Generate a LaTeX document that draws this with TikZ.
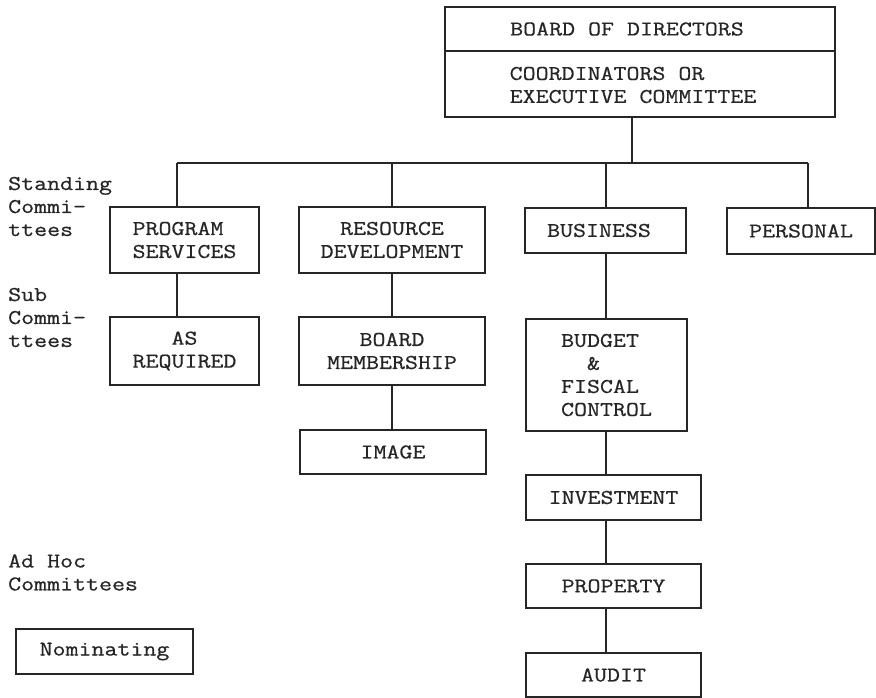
\documentclass[tikz,border=0pt]{standalone}
\usepackage{fontspec}
\setmonofont[FakeStretch=1.2,FakeBold=0.6]{Latin Modern Mono}
\begin{document}
\begin{tikzpicture}[x=1pt,y=-1pt,
  every node/.style={font=\ttfamily\fontsize{21pt}{23pt}\selectfont, text=black!85},
  box/.style={draw=black!85, line width=1.4pt, rectangle, inner sep=0pt, align=center},
  txt/.style={inner sep=0pt, align=left},
  lbl/.style={anchor=west, align=left, inner sep=0pt},
  conn/.style={draw=black!85, line width=1.4pt}]
\useasboundingbox (0,0) rectangle (876,698);
\fill[white] (0,0) rectangle (876,698);

% top boxes
\node[box, minimum width=390pt, minimum height=44pt] (board) at (640,29) {};
\node[txt] (boardtxt) at (627,29) {BOARD OF DIRECTORS};
\node[box, minimum width=390pt, minimum height=66pt] (coord) at (640,84) {};
\node[txt] (coordtxt) at (633,85) {COORDINATORS OR\\EXECUTIVE COMMITTEE};

% standing committees
\node[box, minimum width=149pt, minimum height=66pt, align=left] (prog) at (184.5,240) {PROGRAM\\SERVICES};
\node[box, minimum width=186pt, minimum height=66pt] (res) at (392,240) {RESOURCE\\DEVELOPMENT};
\node[box, minimum width=161pt, minimum height=45pt] (bus) at (605.5,230.5) {};
\node[txt] (bustxt) at (599,230.5) {BUSINESS};
\node[box, minimum width=148pt, minimum height=46pt] (pers) at (801,231) {PERSONAL};

% sub committees
\node[box, minimum width=149pt, minimum height=68pt] (asreq) at (184.5,351) {AS\\REQUIRED};
\node[box, minimum width=186pt, minimum height=68pt] (bm) at (392,351) {BOARD\\MEMBERSHIP};
\node[box, minimum width=186pt, minimum height=44pt] (img) at (393,452) {IMAGE};
\node[box, minimum width=161pt, minimum height=112pt, align=left] (budget) at (606.5,375) {BUDGET\\\phantom{BU}\&\\FISCAL\\CONTROL};
\node[box, minimum width=175pt, minimum height=45pt] (inv) at (613.5,497.5) {INVESTMENT};
\node[box, minimum width=175pt, minimum height=44pt] (prop) at (613.5,586) {PROPERTY};
\node[box, minimum width=175pt, minimum height=44pt] (audit) at (613.5,675) {AUDIT};

% ad hoc
\node[box, minimum width=177pt, minimum height=45pt] (nom) at (104.5,651.5) {Nominating};

% row labels
\node[lbl] (lstand) at (8,206.5) {Standing\\Commi-\\ttees};
\node[lbl] (lsub) at (8,317.5) {Sub\\Commi-\\ttees};
\node[lbl] (ladhoc) at (8,572.5) {Ad Hoc\\Committees};

% connectors
\coordinate (hub) at (632,163);
\coordinate (barL) at (177,163);
\coordinate (barR) at (808,163);
\coordinate (spine) at (606,0);
\draw[conn] (hub |- coord.south) -- (hub);
\draw[conn] (barL) -- (barR);
\draw[conn] (barL) -- (barL |- prog.north);
\draw[conn] (res.north |- barL) -- (res.north);
\draw[conn] (spine |- barL) -- (spine |- bus.north);
\draw[conn] (barR) -- (barR |- pers.north);
\draw[conn] (barL |- prog.south) -- (barL |- asreq.north);
\draw[conn] (res.south) -- (bm.north);
\draw[conn] (bm.south) -- (bm.south |- img.north);
\draw[conn] (spine |- bus.south) -- (spine |- budget.north);
\draw[conn] (spine |- budget.south) -- (spine |- inv.north);
\draw[conn] (spine |- inv.south) -- (spine |- prop.north);
\draw[conn] (spine |- prop.south) -- (spine |- audit.north);
\end{tikzpicture}
\end{document}
